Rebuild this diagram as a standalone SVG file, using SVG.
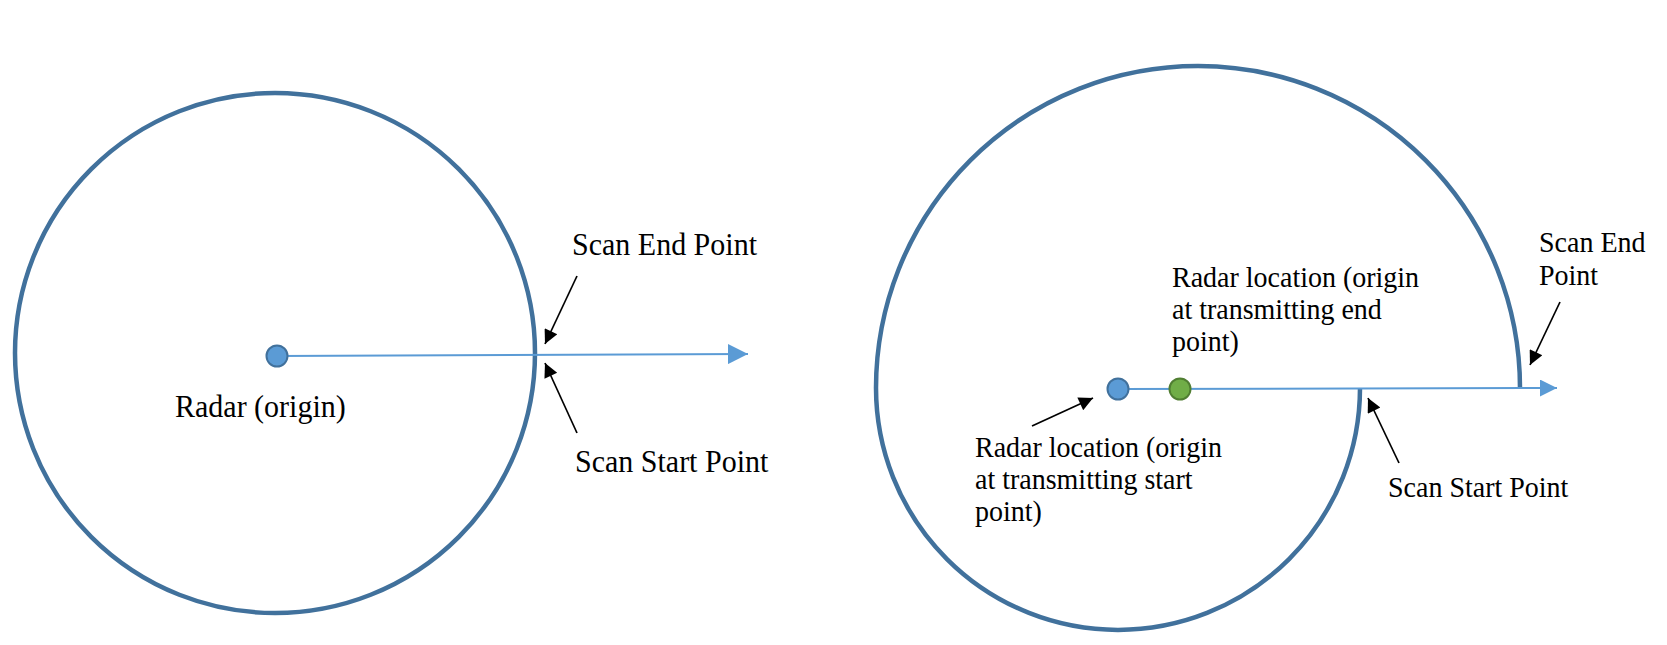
<svg xmlns="http://www.w3.org/2000/svg" width="1667" height="645" viewBox="0 0 1667 645">
  <style>
    .ring { fill: none; stroke: #41719C; stroke-width: 4.5; }
    .ray { fill: none; stroke: #5B9BD5; stroke-width: 2; }
    .ptr { fill: none; stroke: #000000; stroke-width: 1.7; }
    .dotb { fill: #5B9BD5; stroke: #41719C; stroke-width: 2; }
    .dotg { fill: #70AD47; stroke: #507E32; stroke-width: 2; }
    .lbl { font-family: "Liberation Serif", "Times New Roman", serif; fill: #000000; }
    .l30 { font-size: 30px; }
    .l28 { font-size: 28px; }
  </style>
  <defs>
    <marker id="blk" viewBox="0 0 10 10" refX="10" refY="5" markerWidth="18" markerHeight="14" orient="auto" markerUnits="userSpaceOnUse">
      <path d="M0,0 L10,5 L0,10 Z" fill="#000000"/>
    </marker>
    <marker id="blueL" viewBox="0 0 10 10" refX="10" refY="5" markerWidth="20" markerHeight="20" orient="auto" markerUnits="userSpaceOnUse">
      <path d="M0,0 L10,5 L0,10 Z" fill="#5B9BD5"/>
    </marker>
    <marker id="blueR" viewBox="0 0 10 10" refX="10" refY="5" markerWidth="17" markerHeight="17" orient="auto" markerUnits="userSpaceOnUse">
      <path d="M0,0 L10,5 L0,10 Z" fill="#5B9BD5"/>
    </marker>
  </defs>
  <rect x="0" y="0" width="1667" height="645" fill="#FFFFFF"/>

  <g id="left-scan-circle">
    <circle class="ring" cx="275" cy="353" r="260"/>
  </g>
  <g id="right-scan-spiral">
    <path class="ring" d="M1360,388 A242,242 0 0 1 876,388 A322,322 0 0 1 1520,388"/>
  </g>

  <g id="connectors">
    <line class="ray" x1="277" y1="356" x2="748" y2="354" marker-end="url(#blueL)"/>
    <line class="ray" x1="1118" y1="389" x2="1557" y2="388" marker-end="url(#blueR)"/>
    <line class="ptr" x1="577" y1="276" x2="545" y2="344" marker-end="url(#blk)"/>
    <line class="ptr" x1="577" y1="433" x2="545" y2="363" marker-end="url(#blk)"/>
    <line class="ptr" x1="1032" y1="426" x2="1093" y2="398" marker-end="url(#blk)"/>
    <line class="ptr" x1="1560" y1="302" x2="1530" y2="365" marker-end="url(#blk)"/>
    <line class="ptr" x1="1399" y1="463" x2="1368" y2="398" marker-end="url(#blk)"/>
  </g>

  <g id="left-radar">
    <circle class="dotb" cx="277" cy="356" r="10.5"/>
    <text class="lbl l30" transform="translate(175,417) scale(1,1.08)">Radar (origin)</text>
  </g>
  <g id="left-scan-end">
    <text class="lbl l30" transform="translate(572,255) scale(1,1.08)">Scan End Point</text>
  </g>
  <g id="left-scan-start">
    <text class="lbl l30" transform="translate(575,472) scale(1,1.08)">Scan Start Point</text>
  </g>

  <g id="radar-start">
    <circle class="dotb" cx="1118" cy="389" r="10.5"/>
    <text class="lbl l28" transform="translate(975,457) scale(1,1.08)">Radar location (origin</text>
    <text class="lbl l28" transform="translate(975,489) scale(1,1.08)">at transmitting start</text>
    <text class="lbl l28" transform="translate(975,521) scale(1,1.08)">point)</text>
  </g>
  <g id="radar-end">
    <circle class="dotg" cx="1180" cy="389" r="10.5"/>
    <text class="lbl l28" transform="translate(1172,287) scale(1,1.08)">Radar location (origin</text>
    <text class="lbl l28" transform="translate(1172,319) scale(1,1.08)">at transmitting end</text>
    <text class="lbl l28" transform="translate(1172,351) scale(1,1.08)">point)</text>
  </g>
  <g id="right-scan-end">
    <text class="lbl l28" transform="translate(1539,252) scale(1,1.08)">Scan End</text>
    <text class="lbl l28" transform="translate(1539,285) scale(1,1.08)">Point</text>
  </g>
  <g id="right-scan-start">
    <text class="lbl l28" transform="translate(1388,497) scale(1,1.08)">Scan Start Point</text>
  </g>
</svg>
